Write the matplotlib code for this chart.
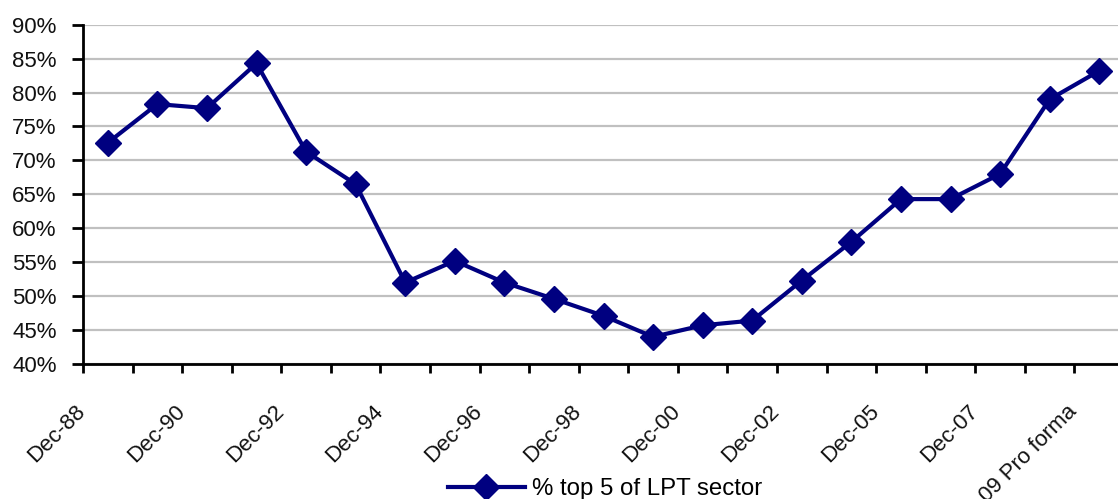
import matplotlib
matplotlib.use("Agg")
import matplotlib.pyplot as plt
from matplotlib.ticker import FuncFormatter
from matplotlib.transforms import ScaledTranslation, blended_transform_factory

plt.rcParams["font.family"] = ["Liberation Sans", "DejaVu Sans"]

# Share of the LPT sector held by the top five trusts
categories = ["Dec-88", "Dec-89", "Dec-90", "Dec-91", "Dec-92", "Dec-93", "Dec-94",
              "Dec-95", "Dec-96", "Dec-97", "Dec-98", "Dec-99", "Dec-00", "Dec-01",
              "Dec-02", "Dec-03", "Dec-05", "Dec-06", "Dec-07", "Dec-08", "09 Pro forma"]
top5_share = [72.6, 78.3, 77.7, 84.3, 71.3, 66.5, 52.0, 55.2, 52.0, 49.6, 47.1,
              44.0, 45.7, 46.4, 52.3, 58.0, 64.3, 64.3, 68.0, 79.0, 83.2]
series_label = "% top 5 of LPT sector"
y_ticks = [40, 45, 50, 55, 60, 65, 70, 75, 80, 85, 90]

W, H = 1118, 499
fig = plt.figure(figsize=(W / 100, H / 100), dpi=100)
left, right, top, bottom = 83, 1124, 24.7, 364
ax = fig.add_axes([left / W, 1 - bottom / H, (right - left) / W, (bottom - top) / H])

navy = "#000080"
x = list(range(len(categories)))
ax.plot(x, top5_share, color=navy, linewidth=3.0, marker="D", markersize=13.5,
        markerfacecolor=navy, markeredgecolor=navy, label=series_label,
        clip_on=False, zorder=3)

# horizontal gridlines
ax.set_yticks(y_ticks)
ax.yaxis.set_major_formatter(FuncFormatter(lambda v, p: f"{v:.0f}%"))
ax.grid(axis="y", color="#c0c0c0", linewidth=1.6, zorder=0)
ax.set_axisbelow(True)

# tick marks on category boundaries
ax.set_xticks([i - 0.5 for i in x])
ax.set_xticklabels([])
ax.set_xlim(-0.5, len(categories) - 0.5)
ax.set_ylim(40, 90)

# rotated labels for every other category, hung from the boundary to its left
label_tf = blended_transform_factory(ax.transData, ax.transAxes) + \
    ScaledTranslation(-0.08, -0.366, fig.dpi_scale_trans)
for i in x:
    if i % 2 == 0:
        ax.text(i - 0.5, 0, categories[i], transform=label_tf, rotation=45,
                rotation_mode="anchor", ha="right", va="top", fontsize=16,
                color="#111111")

for s in ["top", "right"]:
    ax.spines[s].set_visible(False)
for s in ["left", "bottom"]:
    ax.spines[s].set_linewidth(2.0)
    ax.spines[s].set_color("black")

ax.tick_params(axis="y", direction="out", length=8, width=2.0, pad=11,
               labelsize=16, colors="black", labelcolor="#111111")
ax.tick_params(axis="x", direction="out", length=6.5, width=2.0, colors="black")

fig.legend(loc="center left", bbox_to_anchor=(448 / W, 1 - 489 / H),
           frameon=False, fontsize=17.3, borderpad=0, borderaxespad=0,
           handlelength=3.2, handletextpad=0.3)

fig.savefig("out.png", dpi=100, facecolor="white")
